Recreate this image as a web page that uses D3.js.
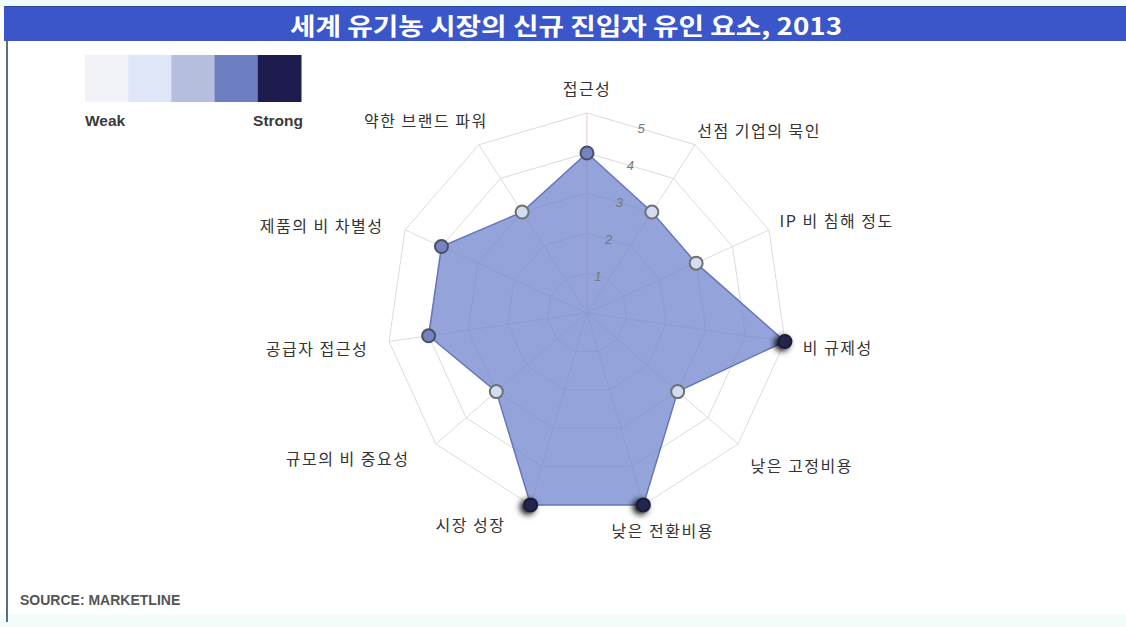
<!DOCTYPE html>
<html><head><meta charset="utf-8">
<script src="https://cdn.jsdelivr.net/npm/d3@7"></script>
<style>
html,body{margin:0;padding:0;background:#fff;}
svg{display:block;}
</style></head>
<body>
<svg id="c" width="1126" height="627"></svg>
<script>
// ---- data ----
const title = "세계 유기농 시장의 신규 진입자 유인 요소, 2013";
const categories = ["접근성","선점 기업의 묵인","IP 비 침해 정도","비 규제성","낮은 고정비용","낮은 전환비용","시장 성장","규모의 비 중요성","공급자 접근성","제품의 비 차별성","약한 브랜드 파워"];
const values = [4,3,3,5,3,5,5,3,4,4,3];
const tickValues = [1,2,3,4,5];
const legendColors = ["#f2f3f8","#dfe6f8","#b5bedd","#6d7fc2","#1e1c4f"];
const legendLabels = ["Weak","Strong"];
const source = "SOURCE: MARKETLINE";

// ---- layout ----
const W = 1126, H = 627;
const cx = 587, cy = 313, R = 200;
const svg = d3.select("#c");
const defs = svg.append("defs");
const sh = defs.append("filter").attr("id","glow").attr("x","-100%").attr("y","-100%").attr("width","300%").attr("height","300%");
sh.append("feGaussianBlur").attr("in","SourceAlpha").attr("stdDeviation",3).attr("result","b");
sh.append("feOffset").attr("in","b").attr("dx",-3).attr("dy",2).attr("result","o");
const fm = sh.append("feMerge"); fm.append("feMergeNode").attr("in","o"); fm.append("feMergeNode").attr("in","SourceGraphic");

// background frame
svg.append("rect").attr("x",0).attr("y",0).attr("width",W).attr("height",6).attr("fill","#f0fbfb");
svg.append("rect").attr("x",0).attr("y",614).attr("width",W).attr("height",13).attr("fill","#f3fbfb");
svg.append("rect").attr("x",4).attr("y",6).attr("width",W-4).attr("height",35).attr("fill","#3a56c9");
svg.append("line").attr("x1",4).attr("x2",W).attr("y1",6.5).attr("y2",6.5).attr("stroke","#2d4aa8").attr("stroke-width",1);
svg.append("line").attr("x1",7).attr("x2",7).attr("y1",41).attr("y2",622).attr("stroke","#557479").attr("stroke-width",2);

svg.append("text").attr("x",566).attr("y",24).attr("text-anchor","middle").attr("dominant-baseline","central")
  .attr("fill","#fff").attr("font-family","'Noto Sans CJK KR'").attr("font-weight","bold").attr("font-size",24)
  .attr("textLength",552).attr("lengthAdjust","spacingAndGlyphs").text(title);

// legend
const lx = d3.scaleBand().domain(d3.range(legendColors.length)).range([85,301]).padding(0);
svg.append("g").selectAll("rect").data(legendColors).join("rect")
  .attr("x",(d,i)=>lx(i)).attr("y",55).attr("width",lx.bandwidth()+0.5).attr("height",47).attr("fill",d=>d);
svg.append("text").attr("x",85).attr("y",126).attr("font-family","'Liberation Sans',Arial").attr("font-weight","bold").attr("font-size",15.5).attr("fill","#3a3a3a").text(legendLabels[0]);
svg.append("text").attr("x",303).attr("y",126).attr("text-anchor","end").attr("font-family","'Liberation Sans',Arial").attr("font-weight","bold").attr("font-size",15.5).attr("fill","#3a3a3a").text(legendLabels[1]);

// ---- radar ----
const n = categories.length;
const r = d3.scaleLinear().domain([0,5]).range([0,R]);
const ang = d3.scaleLinear().domain([0,n]).range([0,2*Math.PI]);
const g = svg.append("g").attr("transform",`translate(${cx},${cy})`);
const px = (i,v)=> r(v)*Math.sin(ang(i));
const py = (i,v)=> -r(v)*Math.cos(ang(i));

const radial = d3.lineRadial().angle((d,i)=>ang(i)).radius(d=>r(d)).curve(d3.curveLinearClosed);

// grid rings
g.append("g").selectAll("path").data(tickValues).join("path")
  .attr("d",t=>radial(d3.range(n).map(()=>t)))
  .attr("fill","none").attr("stroke","#dcdcdc").attr("stroke-width",1);
// spokes
g.append("g").selectAll("line").data(d3.range(n)).join("line")
  .attr("x1",0).attr("y1",0).attr("x2",i=>px(i,5)).attr("y2",i=>py(i,5))
  .attr("stroke",i=>i===0?"#f2c9c9":"#dcdcdc").attr("stroke-width",1);

// area
g.append("path").attr("d",radial(values))
  .attr("fill","#6f84cf").attr("fill-opacity",0.74)
  .attr("stroke","#6676bd").attr("stroke-width",1.5);

// tick labels (along bisector of first sector)
const tb = ang(0.5);
g.append("g").selectAll("text").data(tickValues).join("text")
  .attr("x",t=>r(t)*Math.cos(Math.PI/n)*Math.sin(tb))
  .attr("y",t=>-r(t)*Math.cos(Math.PI/n)*Math.cos(tb))
  .attr("text-anchor","middle").attr("dominant-baseline","central")
  .attr("font-family","'Liberation Sans',Arial").attr("font-style","italic").attr("font-size",13).attr("fill","#777")
  .text(t=>t);

// markers
const mColor = d3.scaleOrdinal().domain([3,4,5]).range(["#d6dcef","#7583c2","#24264f"]);
const mStroke = d3.scaleOrdinal().domain([3,4,5]).range(["#6b7275","#4a4f63","#1a1b33"]);
g.append("g").selectAll("circle").data(values).join("circle")
  .attr("cx",(d,i)=>px(i,d)).attr("cy",(d,i)=>py(i,d)).attr("r",6.5)
  .attr("fill",d=>mColor(d)).attr("stroke",d=>mStroke(d)).attr("stroke-width",2)
  .attr("filter",d=>d===5?"url(#glow)":null);

// category labels
const lr = R + 15;
const nudge = [[0,-10],[-6,-2],[-3,-4],[3,3],[1,11],[-36,11],[-21,5],[-15,4],[-6,4],[-8,1],[17,-12]];
g.append("g").selectAll("text").data(categories).join("text")
  .attr("x",(d,i)=>lr*Math.sin(ang(i))+nudge[i][0])
  .attr("y",(d,i)=>-lr*Math.cos(ang(i))+nudge[i][1])
  .attr("text-anchor",(d,i)=>{const s=Math.sin(ang(i)); return Math.abs(s)<0.05?"middle":(s>0?"start":"end");})
  .attr("dominant-baseline","central")
  .attr("font-family","'Noto Sans CJK KR'").attr("font-size",16).attr("letter-spacing",1.5).attr("fill","#333")
  .text(d=>d);

// source
svg.append("text").attr("x",20).attr("y",600).attr("dominant-baseline","central")
  .attr("font-family","'Liberation Sans',Arial").attr("font-weight","bold").attr("font-size",14).attr("fill","#555")
  .text(source);
</script>
</body></html>
